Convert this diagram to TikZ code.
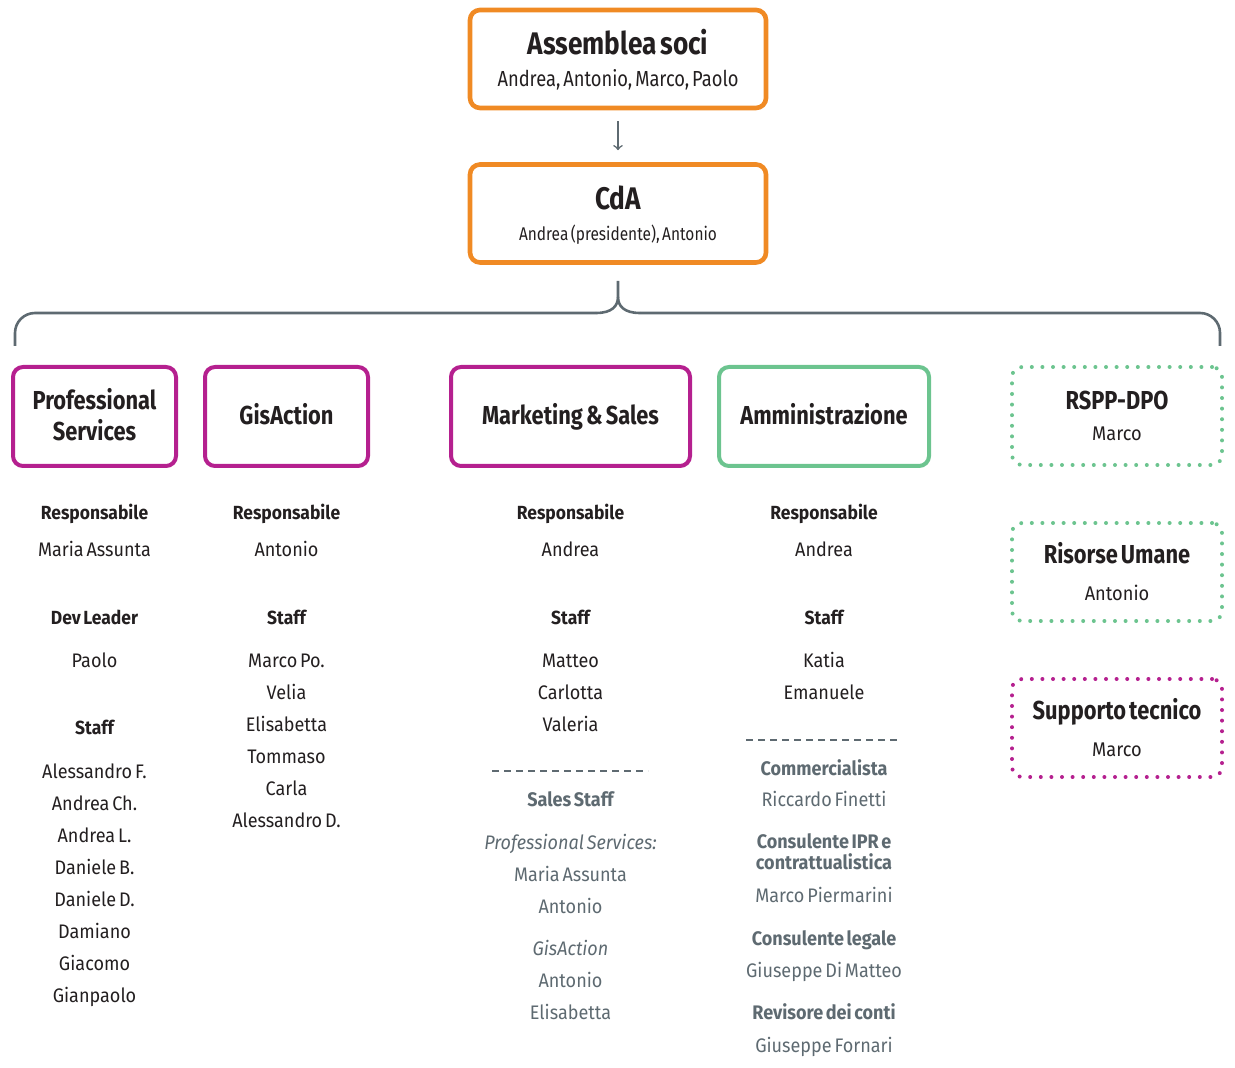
\documentclass[tikz,border=0pt]{standalone}
\usepackage{fontspec}
\setmainfont{Fira Sans}[FakeStretch=0.92, WordSpace=0.6]
\newfontfamily\narrowfont{Fira Sans}[FakeStretch=0.84, WordSpace=0.6]
\usetikzlibrary{positioning}

\definecolor{orgorange}{HTML}{F08A24}
\definecolor{orgmagenta}{HTML}{B5208F}
\definecolor{orggreen}{HTML}{6CC48F}
\definecolor{orggray}{HTML}{5E6A71}
\definecolor{orgdark}{HTML}{231F20}

\tikzset{
  topbox/.style={draw=orgorange, line width=2.3pt, rounded corners=5pt, minimum width=148pt, minimum height=49pt},
  deptbox/.style={draw=#1, line width=2pt, rounded corners=5pt, minimum height=49.5pt},
  sidebox/.style={draw=#1, line width=2pt, dash pattern=on 0pt off 5.3pt, line cap=round, rounded corners=5pt, minimum width=105pt, minimum height=49pt},
  bigtitle/.style={anchor=base, text=orgdark, font=\narrowfont\fontsize{15.6}{18}\selectfont\bfseries},
  boxtitle/.style={anchor=base, text=orgdark, font=\narrowfont\fontsize{13}{15}\selectfont\bfseries},
  subtitle/.style={anchor=base, text=orgdark, font=\narrowfont\fontsize{#1}{12}\selectfont},
  sidename/.style={anchor=base, text=orgdark, font=\fontsize{9.9}{12}\selectfont},
  role/.style={anchor=base, text=orgdark, font=\fontsize{9.5}{12}\selectfont\bfseries},
  person/.style={anchor=base, text=orgdark, font=\fontsize{9.8}{12}\selectfont},
  extrole/.style={anchor=base, text=orggray, font=\fontsize{9.8}{12}\selectfont\bfseries},
  extperson/.style={person, text=orggray},
  brace/.style={draw=orggray, line width=1.3pt},
  separator/.style={draw=orggray, line width=1pt, dash pattern=on 3.5pt off 2.5pt}
}

\begin{document}
\begin{tikzpicture}[x=0.5pt,y=-0.5pt]
 \useasboundingbox (0,0) rectangle (1235,1068);

 %Top boxes
 \node[topbox] (assemblea) at (618,59) {};
 \node[bigtitle] (assemblea-t) at (618,55) {Assemblea soci};
 \node[subtitle=10.9] (assemblea-s) at (618,87) {Andrea, Antonio, Marco, Paolo};

 \node[topbox] (cda) at (618,213.5) {};
 \node[bigtitle] (cda-t) at (618,210) {CdA};
 \node[subtitle=9.2] (cda-s) at (618,241) {Andrea (presidente), Antonio};

 \draw[->, orggray, line width=0.8pt, shorten <=5.5pt, shorten >=6pt] (assemblea) -- (cda);

 %Brace
 \coordinate (braceL) at (15,346);
 \coordinate (braceR) at (1220,346);
 \coordinate (braceTip) at (618,281);
 \draw[brace, rounded corners=10pt] (braceL) |- (596,313);
 \draw[brace] (596,313) .. controls (612,313) and (618,306) .. (618,297) -- (braceTip);
 \draw[brace] (640,313) .. controls (624,313) and (618,306) .. (618,297);
 \draw[brace, rounded corners=10pt] (640,313) -| (braceR);

 %Departments
 \node[deptbox=orgmagenta, minimum width=81.5pt] (ps) at (94.5,416.5) {};
 \node[boxtitle] (ps-t1) at (94.5,409.5) {Professional};
 \node[boxtitle] (ps-t2) at (94.5,441) {Services};
 \node[deptbox=orgmagenta, minimum width=81.5pt] (gis) at (286.5,416.5) {};
 \node[boxtitle] (gis-t) at (286.5,425) {GisAction};
 \node[deptbox=orgmagenta, minimum width=119.5pt] (ms) at (570.5,416.5) {};
 \node[boxtitle] (ms-t) at (570.5,425) {Marketing \& Sales};
 \node[deptbox=orggreen, minimum width=105pt] (amm) at (824,416.5) {};
 \node[boxtitle] (amm-t) at (824,425) {Amministrazione};

 %Side boxes
 \node[sidebox=orggreen] (rspp) at (1117,416) {};
 \node[boxtitle] (rspp-t) at (1117,409.5) {RSPP-DPO};
 \node[sidename] (rspp-s) at (1117,441) {Marco};
 \node[sidebox=orggreen] (hr) at (1117,572) {};
 \node[boxtitle] (hr-t) at (1117,564) {Risorse Umane};
 \node[sidename] (hr-s) at (1117,600.5) {Antonio};
 \node[sidebox=orgmagenta] (tech) at (1117,728) {};
 \node[boxtitle] (tech-t) at (1117,719) {Supporto tecnico};
 \node[sidename] (tech-s) at (1117,756.5) {Marco};

 %Professional Services column
 \node[role] (ps-resp) at (94.5,520) {Responsabile};
 \node[person] (ps-resp-n) at (94.5,557) {Maria Assunta};
 \node[role] (ps-dev) at (94.5,624) {Dev Leader};
 \node[person] (ps-dev-n) at (94.5,667) {Paolo};
 \node[role] (ps-staff) at (94.5,734.5) {Staff};
 \foreach \name [count=\i] in {Alessandro F., Andrea Ch., Andrea L., Daniele B., Daniele D., Damiano, Giacomo, Gianpaolo}
  \node[person] (ps-staff-\i) at (94.5,{778+32*(\i-1)}) {\name};

 %GisAction column
 \node[role] (gis-resp) at (286.5,520) {Responsabile};
 \node[person] (gis-resp-n) at (286.5,557) {Antonio};
 \node[role] (gis-staff) at (286.5,624) {Staff};
 \foreach \name [count=\i] in {Marco Po., Velia, Elisabetta, Tommaso, Carla, Alessandro D.}
  \node[person] (gis-staff-\i) at (286.5,{667+32*(\i-1)}) {\name};

 %Marketing & Sales column
 \node[role] (ms-resp) at (570.5,520) {Responsabile};
 \node[person] (ms-resp-n) at (570.5,557) {Andrea};
 \node[role] (ms-staff) at (570.5,624.5) {Staff};
 \foreach \name [count=\i] in {Matteo, Carlotta, Valeria}
  \node[person] (ms-staff-\i) at (570.5,{667.5+32*(\i-1)}) {\name};
 \coordinate (ms-sepL) at (492,771);
 \coordinate (ms-sepR) at (648,771);
 \draw[separator] (ms-sepL) -- (ms-sepR);
 \node[extrole] (ms-sales) at (570.5,806.5) {Sales Staff};
 \node[extperson, font=\fontsize{9.8}{12}\selectfont\itshape] (ms-sales-ps) at (570.5,849.5) {Professional Services:};
 \foreach \name/\yy in {Maria Assunta/881.5, Antonio/913.5}
  \node[extperson] (ms-sales-ps-\yy) at (570.5,\yy) {\name};
 \node[extperson, font=\fontsize{9.8}{12}\selectfont\itshape] (ms-sales-gis) at (570.5,955.5) {GisAction};
 \foreach \name/\yy in {Antonio/987.5, Elisabetta/1019.5}
  \node[extperson] (ms-sales-gis-\yy) at (570.5,\yy) {\name};

 %Amministrazione column
 \node[role] (amm-resp) at (824,520) {Responsabile};
 \node[person] (amm-resp-n) at (824,557) {Andrea};
 \node[role] (amm-staff) at (824,624.5) {Staff};
 \foreach \name [count=\i] in {Katia, Emanuele}
  \node[person] (amm-staff-\i) at (824,{667.5+32*(\i-1)}) {\name};
 \coordinate (amm-sepL) at (746,740);
 \coordinate (amm-sepR) at (900,740);
 \draw[separator] (amm-sepL) -- (amm-sepR);
 \foreach \role/\name/\yr/\yn [count=\i] in {Commercialista/Riccardo Finetti/775.5/806.5, Consulente legale/Giuseppe Di Matteo/945.5/977.5, Revisore dei conti/Giuseppe Fornari/1019.5/1052.5}
 {
  \node[extrole] (amm-ext-\i) at (824,\yr) {\role};
  \node[extperson] (amm-ext-\i-n) at (824,\yn) {\name};
 }
 \node[extrole] (amm-ipr-1) at (824,848.5) {Consulente IPR e};
 \node[extrole] (amm-ipr-2) at (824,869.5) {contrattualistica};
 \node[extperson] (amm-ipr-n) at (824,902.5) {Marco Piermarini};

\end{tikzpicture}
\end{document}
